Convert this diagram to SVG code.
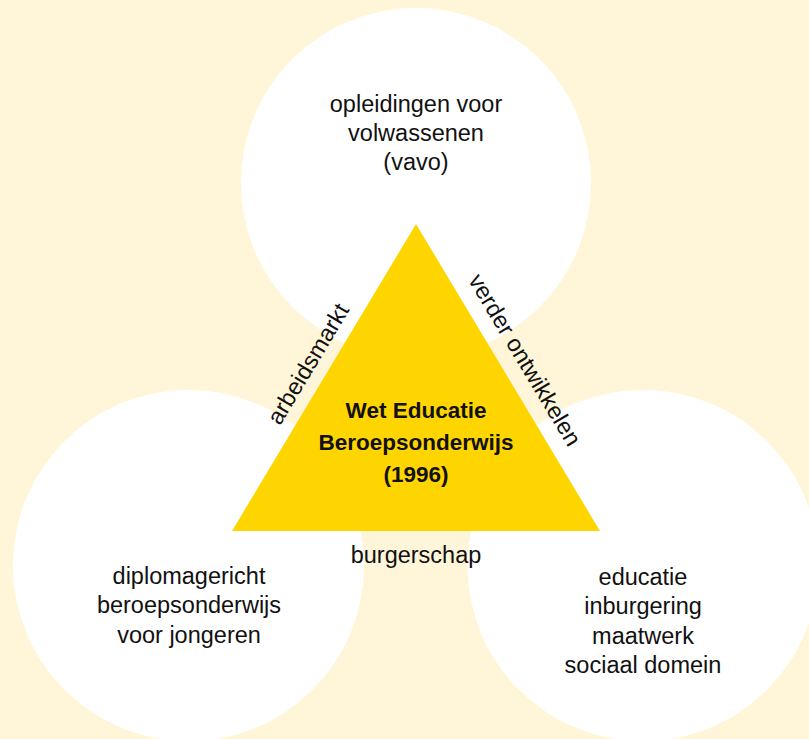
<svg xmlns="http://www.w3.org/2000/svg" width="809" height="739" viewBox="0 0 809 739">
<style>
.bg{fill:#FFF6DA}
.circle{fill:#FFFFFF}
.tri{fill:#FFD500}
text{font-family:"Liberation Sans",Arial,sans-serif;font-size:23.5px;fill:#111111;text-anchor:middle}
.bold{font-weight:bold;font-size:22.5px}
</style>
<rect class="bg" x="0" y="0" width="809" height="739"/>
<g id="node-vavo">
<circle class="circle" cx="416" cy="183" r="175"/>
<text x="416" y="112">opleidingen voor</text>
<text x="416" y="141">volwassenen</text>
<text x="416" y="170">(vavo)</text>
</g>
<g id="node-jongeren">
<circle class="circle" cx="188.5" cy="565.5" r="175.5"/>
<text x="189" y="584">diplomagericht</text>
<text x="189" y="613">beroepsonderwijs</text>
<text x="189" y="643">voor jongeren</text>
</g>
<g id="node-educatie">
<circle class="circle" cx="643" cy="565.5" r="175.5"/>
<text x="643" y="585">educatie</text>
<text x="643" y="614">inburgering</text>
<text x="643" y="644">maatwerk</text>
<text x="643" y="673">sociaal domein</text>
</g>
<g id="node-web">
<polygon class="tri" points="416,224 232,531 600,531"/>
<text class="bold" x="416" y="418">Wet Educatie</text>
<text class="bold" x="416" y="450">Beroepsonderwijs</text>
<text class="bold" x="416" y="482">(1996)</text>
</g>
<g id="connectors">
<text transform="translate(315,368) rotate(-59.06)">arbeidsmarkt</text>
<text transform="translate(518,364) rotate(59.06)">verder ontwikkelen</text>
<text x="416" y="563">burgerschap</text>
</g>
</svg>
